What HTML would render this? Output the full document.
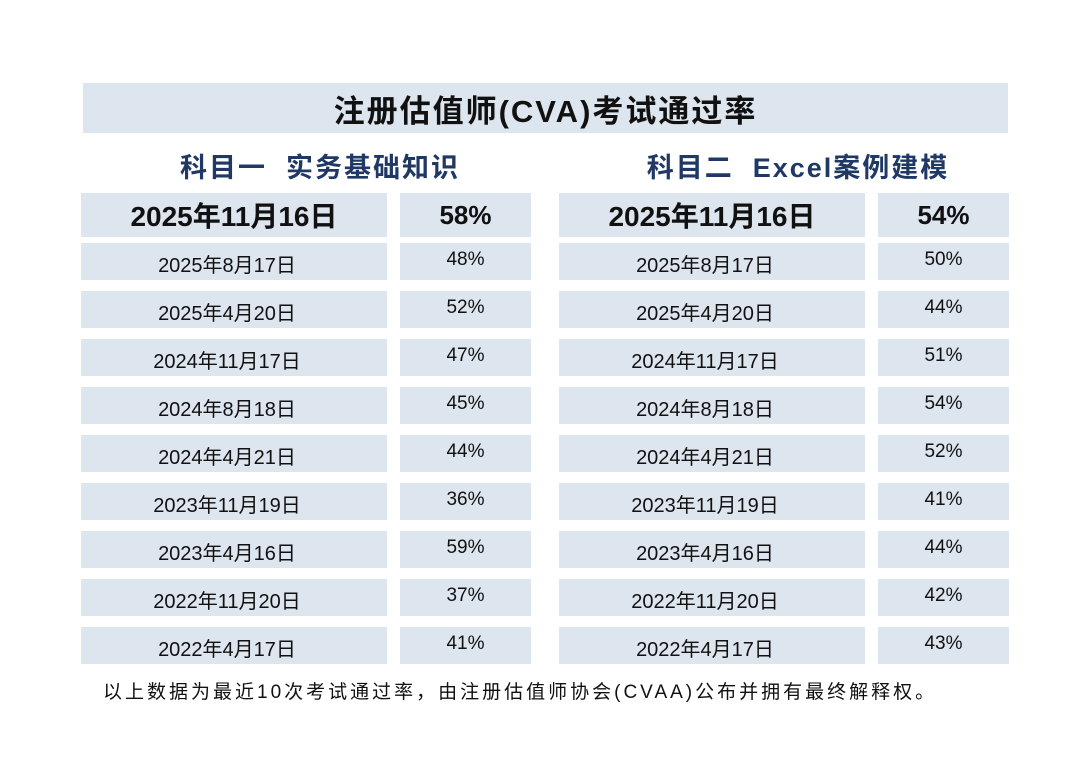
<!DOCTYPE html><html><head><meta charset="utf-8"><style>
body{margin:0;width:1080px;height:763px;background:#fff;position:relative;font-family:"Liberation Sans","Noto Sans CJK SC",sans-serif;overflow:hidden}
.b{position:absolute;background:#dde5ee;display:flex;align-items:center;justify-content:center;color:#111}
.t{position:absolute;color:#1f3864;font-weight:bold;font-size:27px;letter-spacing:2px;text-align:center}
</style></head><body>
<div class="b" style="left:83px;top:83px;width:925px;height:50px;font-size:31px;font-weight:bold;letter-spacing:2px">注册估值师(CVA)考试通过率</div>
<div class="t" style="left:95px;top:146px;width:450px">科目一&nbsp; 实务基础知识</div>
<div class="t" style="left:573px;top:146px;width:450px">科目二&nbsp; Excel案例建模</div>
<div id="g"></div>
<div style="position:absolute;left:103px;top:677px;font-size:19px;letter-spacing:3px;color:#111">以上数据为最近10次考试通过率，由注册估值师协会(CVAA)公布并拥有最终解释权。</div>
<script>
var L=[["2025年8月17日","48%","50%"],["2025年4月20日","52%","44%"],["2024年11月17日","47%","51%"],["2024年8月18日","45%","54%"],["2024年4月21日","44%","52%"],["2023年11月19日","36%","41%"],["2023年4月16日","59%","44%"],["2022年11月20日","37%","42%"],["2022年4月17日","41%","43%"]];
var h='';
function c(x,y,w,hh,t,fs,fw,st){h+='<div class="b" style="left:'+x+'px;top:'+y+'px;width:'+w+'px;height:'+hh+'px;font-size:'+fs+'px;font-weight:'+fw+';'+(st||'')+'">'+t+'</div>';}
c(81,193,306,44,"2025年11月16日",28,"bold");c(400,193,131,44,"58%",26,"bold");
c(559,193,306,44,"2025年11月16日",28,"bold");c(878,193,131,44,"54%",26,"bold");
for(var i=0;i<9;i++){var y=243+i*48;var s='padding-right:14px;box-sizing:border-box;padding-top:4px';var p='padding-bottom:4px;box-sizing:border-box';c(81,y,306,37,L[i][0],20,"normal",s);c(400,y,131,37,L[i][1],19,"normal",p);c(559,y,306,37,L[i][0],20,"normal",s);c(878,y,131,37,L[i][2],19,"normal",p);}
document.getElementById('g').innerHTML=h;
</script>
</body></html>
